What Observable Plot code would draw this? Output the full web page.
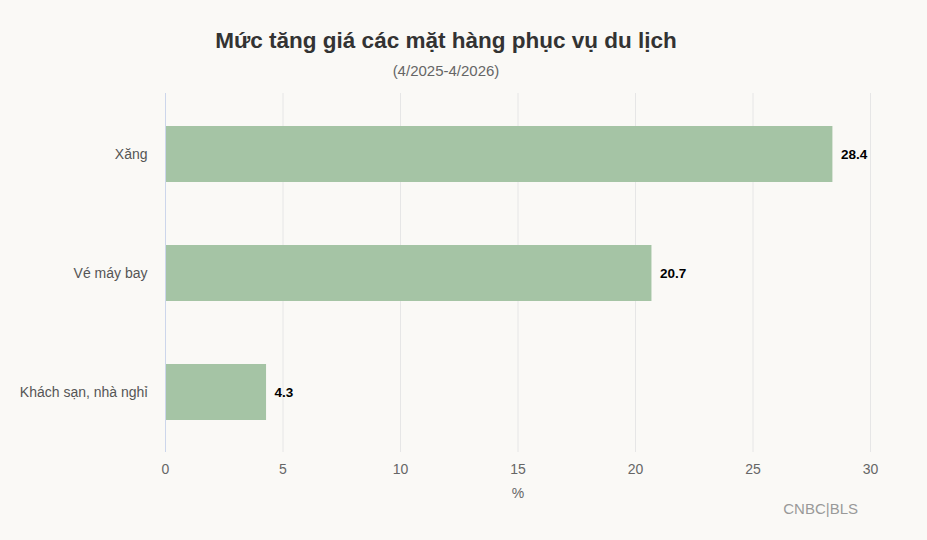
<!DOCTYPE html>
<html><head><meta charset="utf-8">
<script src="https://cdn.jsdelivr.net/npm/d3@7"></script>
<script src="https://cdn.jsdelivr.net/npm/@observablehq/plot@0.6"></script>
<style>
html,body{margin:0;padding:0;background:#faf9f6;}
#wrap{position:relative;width:927px;height:540px;background:#faf9f6;font-family:"Liberation Sans",Arial,sans-serif;overflow:hidden;}
#title{position:absolute;left:0;width:892px;top:28px;text-align:center;font-size:22.5px;font-weight:bold;color:#333;}
#sub{position:absolute;left:0;width:892px;top:62px;text-align:center;font-size:15px;color:#666;}
#chart{position:absolute;left:0;top:88px;}
#cap{position:absolute;right:69px;top:500px;font-size:15px;color:#999;}
</style></head>
<body><div id="wrap">
<div id="title">Mức tăng giá các mặt hàng phục vụ du lịch</div>
<div id="sub">(4/2025-4/2026)</div>
<div id="chart"></div>
<div id="cap">CNBC|BLS</div>
</div>
<script>
const categories = ["Xăng", "Vé máy bay", "Khách sạn, nhà nghỉ"];
const values = [28.4, 20.7, 4.3];
const xTicks = [0, 5, 10, 15, 20, 25, 30];

const data = categories.map((c, i) => ({category: c, value: values[i]}));

const chart = Plot.plot({
  width: 927,
  height: 420,
  marginLeft: 165,
  marginRight: 57,
  marginTop: 5,
  marginBottom: 56,
  style: {background: "transparent", fontFamily: "Liberation Sans, Arial, sans-serif", fontSize: "14px"},
  x: {domain: [0, 30], ticks: xTicks, label: "%", labelAnchor: "center", labelArrow: "none", labelOffset: 45},
  y: {domain: categories, paddingInner: 0.53, paddingOuter: 0.267, label: null},
  marks: [
    Plot.gridX(xTicks, {stroke: "#e6e6e6", strokeOpacity: 1, strokeWidth: 1}),
    Plot.axisX({ticks: xTicks, tickSize: 0, tickPadding: 12, color: "#666", fontSize: 14, label: "%", labelAnchor: "center", labelArrow: "none", labelOffset: 45}),
    Plot.axisY({tickSize: 0, tickPadding: 18, color: "#555", fontSize: 14, label: null}),
    Plot.barX(data, {x: "value", y: "category", fill: "#a5c4a5"}),
    Plot.ruleX([0], {stroke: "#ccd6eb", strokeWidth: 1}),
    Plot.text(data, {x: "value", y: "category", text: d => d.value.toFixed(1), textAnchor: "start", dx: 8, fontWeight: "bold", fontSize: 13.5, fill: "#000"})
  ]
});
document.getElementById("chart").appendChild(chart);
</script>
</body></html>
